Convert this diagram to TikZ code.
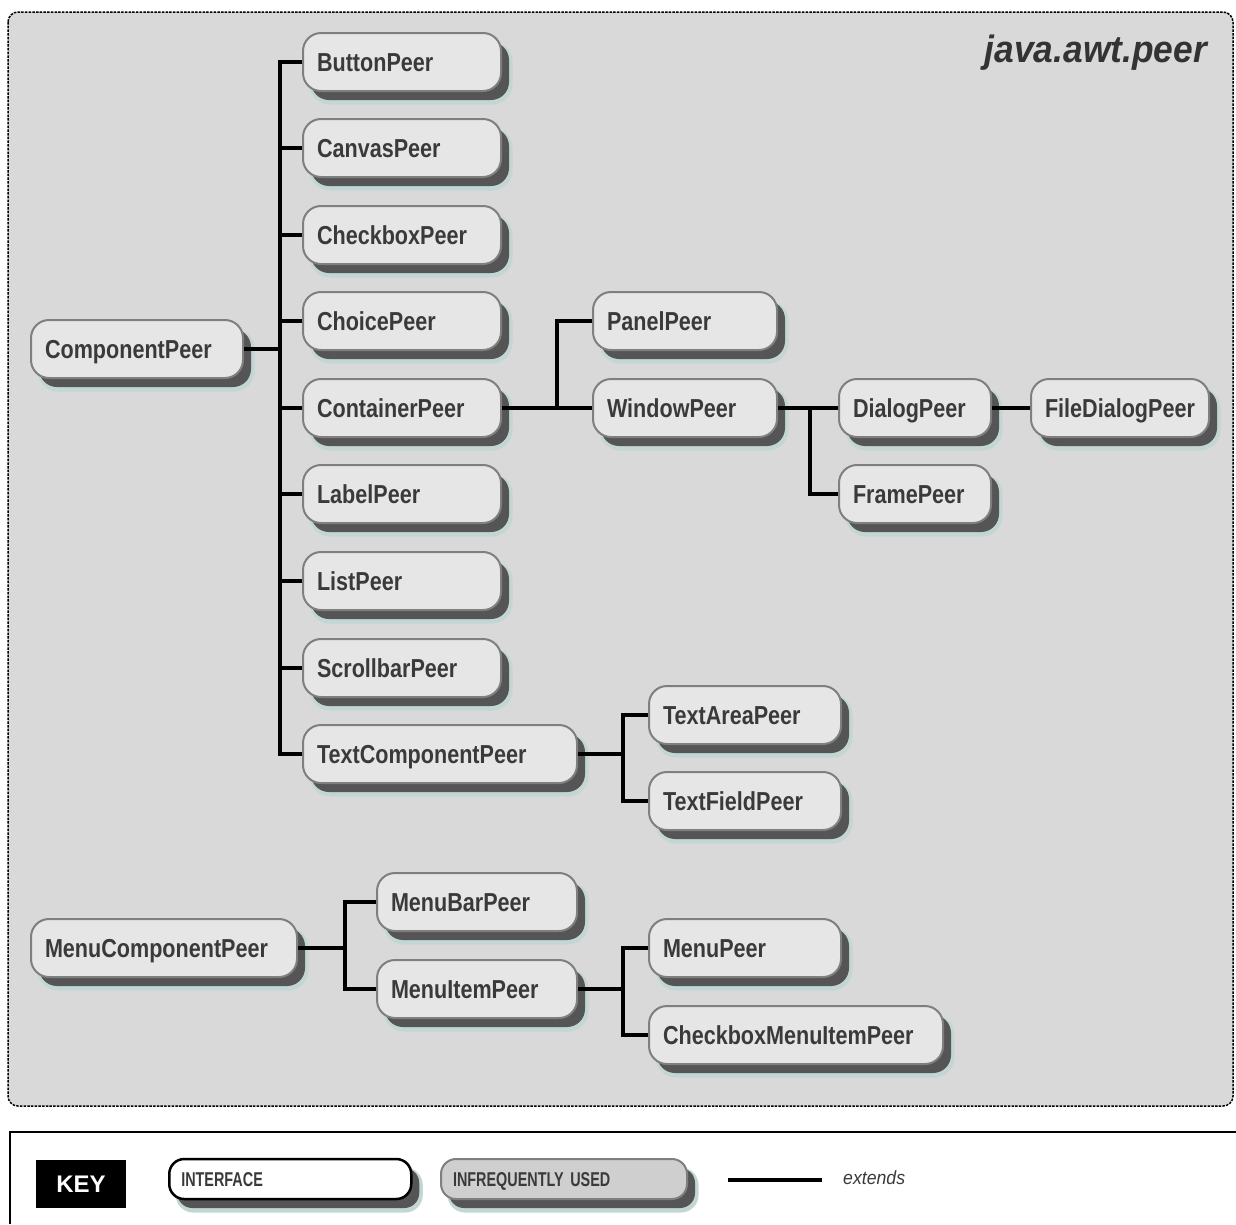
\documentclass[tikz,border=0pt]{standalone}
\usepackage{fontspec}
\setmainfont{Liberation Sans}
\newfontfamily\peerfont[FakeStretch=0.83]{Liberation Sans}
\newfontfamily\keyfont[FakeStretch=0.72]{Liberation Sans}
\newfontfamily\titlefont[FakeStretch=0.93]{Liberation Sans}
\usetikzlibrary{shadows}
\definecolor{bg}{HTML}{D9D9D9}
\definecolor{boxfill}{HTML}{E6E6E6}
\definecolor{boxline}{HTML}{7F7F7F}
\definecolor{halo}{HTML}{C2D6D3}
\definecolor{shade}{HTML}{555555}
\definecolor{txt}{HTML}{3A3A3A}
\definecolor{rare}{HTML}{CFCFCF}
\begin{document}
\begin{tikzpicture}[x=1pt,y=-1pt,
  shadowed/.style={
    general shadow={shadow xshift=9pt, shadow yshift=-11pt, fill=halo, draw=halo, line width=5pt},
    general shadow={shadow xshift=8pt, shadow yshift=-9pt, fill=shade, draw=none}},
  peer/.style={shadowed, draw=boxline, line width=2pt, fill=boxfill, rounded corners=18pt,
    minimum height=58pt, inner xsep=14pt, inner ysep=0pt, anchor=west, align=left,
    font=\peerfont\bfseries\fontsize{26}{28}\selectfont, text=txt,
    text height=22.6pt, text depth=4pt},
  pw/.style={minimum width=#1pt, text width=#1pt-28pt},
  link/.style={line width=3.6pt, black},
  keybox/.style={shadowed, rounded corners=15pt, minimum height=40pt, inner xsep=12pt,
    inner ysep=0pt, anchor=west, align=left, font=\keyfont\bfseries\fontsize{20}{22}\selectfont,
    text=txt, text height=17pt, text depth=3pt},
]
\useasboundingbox (0,0) rectangle (1236,1224);
\fill[white] (0,0) rectangle (1236,1224);
% package frame
\draw[fill=bg, line width=1.5pt, dash pattern=on 2.5pt off 1.2pt, rounded corners=10pt]
  (8,12) rectangle (1233,1106);
\node[anchor=base east, inner sep=0pt, text=black!80,
  font=\titlefont\bfseries\itshape\fontsize{38}{40}\selectfont] (title) at (1207,62) {java.awt.peer};

% nodes
\node[peer, pw=198] (button)   at (302,62)  {ButtonPeer};
\node[peer, pw=198] (canvas)   at (302,148) {CanvasPeer};
\node[peer, pw=198] (checkbox) at (302,235) {CheckboxPeer};
\node[peer, pw=198] (choice)   at (302,321) {ChoicePeer};
\node[peer, pw=198] (cont)     at (302,408) {ContainerPeer};
\node[peer, pw=198] (label)    at (302,494) {LabelPeer};
\node[peer, pw=198] (list)     at (302,581) {ListPeer};
\node[peer, pw=198] (scroll)   at (302,668) {ScrollbarPeer};
\node[peer, pw=274] (tcp)      at (302,754) {TextComponentPeer};
\node[peer, pw=212] (cp)       at (30,349)  {ComponentPeer};
\node[peer, pw=184] (panel)    at (592,321) {PanelPeer};
\node[peer, pw=184] (window)   at (592,408) {WindowPeer};
\node[peer, pw=152] (dialog)   at (838,408) {DialogPeer};
\node[peer, pw=152] (frame)    at (838,494) {FramePeer};
\node[peer, pw=178] (filedialog) at (1030,408) {FileDialogPeer};
\node[peer, pw=192] (textarea) at (648,715) {TextAreaPeer};
\node[peer, pw=192] (textfield) at (648,801) {TextFieldPeer};
\node[peer, pw=266] (mcp)      at (30,948)  {MenuComponentPeer};
\node[peer, pw=200] (menubar)  at (376,902) {MenuBarPeer};
\node[peer, pw=200] (menuitem) at (376,989) {MenuItemPeer};
\node[peer, pw=192] (menu)     at (648,948) {MenuPeer};
\node[peer, pw=294] (cbmi)     at (648,1035) {CheckboxMenuItemPeer};

% junctions
\coordinate (j1) at ([xshift=36pt]cp.east);
\coordinate (j2) at ([xshift=55pt]cont.east);
\coordinate (j3) at ([xshift=32pt]window.east);
\coordinate (j4) at ([xshift=45pt]tcp.east);
\coordinate (j5) at ([xshift=47pt]mcp.east);
\coordinate (j6) at ([xshift=45pt]menuitem.east);

% connectors
\draw[link] (cp.east) -- (j1);
\draw[link] (button.west) -- (j1 |- button.west) -- (j1 |- tcp.west) -- (tcp.west);
\foreach \n in {canvas,checkbox,choice,cont,label,list,scroll}
  \draw[link] (j1 |- \n.west) -- (\n.west);

\draw[link] (cont.east) -- (j2 |- cont.east);
\draw[link] (panel.west) -- (j2 |- panel.west) -- (j2 |- window.west) -- (window.west);

\draw[link] (window.east) -- (dialog.west);
\draw[link] (j3 |- window.east) -- (j3 |- frame.west) -- (frame.west);
\draw[link] (dialog.east) -- (filedialog.west);

\draw[link] (tcp.east) -- (j4 |- tcp.east);
\draw[link] (textarea.west) -- (j4 |- textarea.west) -- (j4 |- textfield.west) -- (textfield.west);

\draw[link] (mcp.east) -- (j5 |- mcp.east);
\draw[link] (menubar.west) -- (j5 |- menubar.west) -- (j5 |- menuitem.west) -- (menuitem.west);

\draw[link] (menuitem.east) -- (j6 |- menuitem.east);
\draw[link] (menu.west) -- (j6 |- menu.west) -- (j6 |- cbmi.west) -- (cbmi.west);

% key
\draw[line width=2.5pt] (1236,1132) -- (10,1132);
\draw[line width=1.5pt] (10,1131) -- (10,1224);
\node[fill=black, text=white, font=\bfseries\fontsize{24}{26}\selectfont, minimum width=90pt,
  minimum height=48pt, inner sep=0pt] (key) at (81,1184) {KEY};
\node[keybox, fill=white, draw=black, line width=2.5pt, minimum width=242pt, text width=218pt]
  (iface) at (168,1179) {INTERFACE};
\node[keybox, fill=rare, draw=boxline, line width=2pt, minimum width=246pt, text width=222pt]
  (rare) at (440,1179) {INFREQUENTLY USED};
\coordinate (ka) at (728,1180);
\coordinate (kb) at (822,1180);
\draw[link] (ka) -- (kb);
\node[anchor=base west, inner sep=0pt, text=txt,
  font=\titlefont\itshape\fontsize{19}{21}\selectfont] (ext) at (843,1184) {extends};
\end{tikzpicture}
\end{document}
